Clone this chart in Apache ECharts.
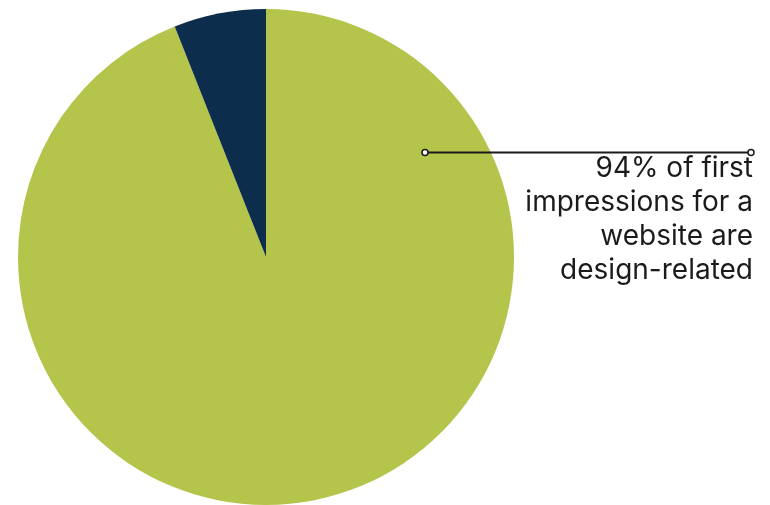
<!DOCTYPE html>
<html>
<head>
<meta charset="utf-8">
<script src="https://cdn.jsdelivr.net/npm/echarts@6/dist/echarts.min.js"></script>
<style>
  html, body { margin: 0; padding: 0; background: #ffffff; }
  #chart { width: 770px; height: 505px; }
</style>
</head>
<body>
<div id="chart"></div>
<script>
// Share of first impressions: design-related vs. other
const categories = ['Design-related', 'Other'];
const values = [94, 6];
const sliceColors = ['#b5c54b', '#0c2d4c'];
const annotationLines = ['94% of first', 'impressions for a', 'website are', 'design-related'];

const chart = echarts.init(document.getElementById('chart'));

chart.setOption({
  backgroundColor: '#ffffff',
  animation: false,
  series: [{
    type: 'pie',
    center: [266, 257],
    radius: [0, 248],
    startAngle: 90,
    clockwise: true,
    label: { show: false },
    labelLine: { show: false },
    silent: true,
    z: 1,
    data: categories.map((name, i) => ({
      name: name,
      value: values[i],
      itemStyle: { color: sliceColors[i] }
    }))
  }],
  graphic: [
    {
      type: 'line',
      z: 50,
      shape: { x1: 425, y1: 152.5, x2: 751, y2: 152.5 },
      style: { stroke: '#1b1b1b', lineWidth: 2 }
    },
    {
      type: 'circle',
      z: 51,
      shape: { cx: 425, cy: 152.5, r: 3 },
      style: { fill: '#ffffff', stroke: '#1b1b1b', lineWidth: 1.5 }
    },
    {
      type: 'circle',
      z: 51,
      shape: { cx: 751, cy: 152.5, r: 3 },
      style: { fill: '#ffffff', stroke: '#1b1b1b', lineWidth: 1.5 }
    },
    {
      type: 'text',
      z: 51,
      x: 753,
      y: 152,
      style: {
        text: annotationLines.join('\n'),
        align: 'right',
        verticalAlign: 'top',
        font: '400 28px Inter, "Noto Sans", sans-serif',
        lineHeight: 34,
        fill: '#1b1b1b'
      }
    }
  ]
});
</script>
</body>
</html>
